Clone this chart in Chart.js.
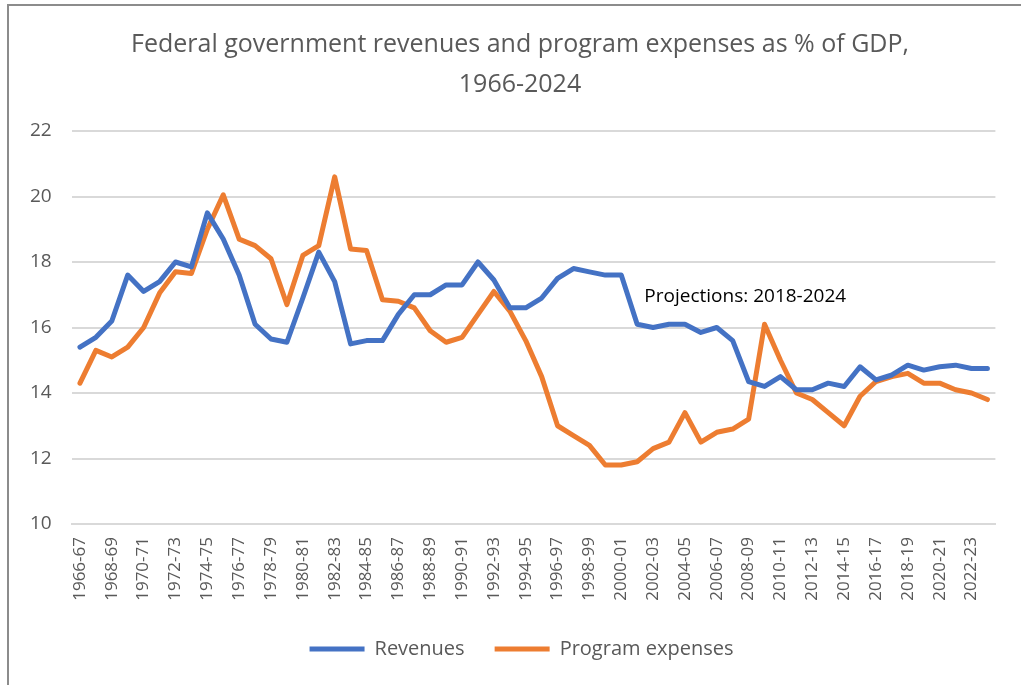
<!DOCTYPE html>
<html>
<head>
<meta charset="utf-8">
<script src="https://cdn.jsdelivr.net/npm/chart.js@4.4.1/dist/chart.umd.min.js"></script>
<style>
    html, body { margin: 0; padding: 0; background: #ffffff; overflow: hidden; }
    #wrap { position: relative; width: 1021px; height: 685px; overflow: hidden; }
    #wrap::before {
        content: "";
        position: absolute;
        left: 7px; top: 4px; right: 0; bottom: 0;
        border-top: 2px solid #8c8c8c;
        border-left: 2px solid #8c8c8c;
        pointer-events: none;
    }
    canvas { display: block; }
</style>
</head>
<body>
<div id="wrap"><canvas id="chart" width="1021" height="685"></canvas></div>
<script>
// Fiscal years, 1966-67 to 2023-24
const fiscalYears = [
    "1966-67", "1967-68", "1968-69", "1969-70", "1970-71", "1971-72", "1972-73", "1973-74",
    "1974-75", "1975-76", "1976-77", "1977-78", "1978-79", "1979-80", "1980-81", "1981-82",
    "1982-83", "1983-84", "1984-85", "1985-86", "1986-87", "1987-88", "1988-89", "1989-90",
    "1990-91", "1991-92", "1992-93", "1993-94", "1994-95", "1995-96", "1996-97", "1997-98",
    "1998-99", "1999-00", "2000-01", "2001-02", "2002-03", "2003-04", "2004-05", "2005-06",
    "2006-07", "2007-08", "2008-09", "2009-10", "2010-11", "2011-12", "2012-13", "2013-14",
    "2014-15", "2015-16", "2016-17", "2017-18", "2018-19", "2019-20", "2020-21", "2021-22",
    "2022-23", "2023-24"
];

// % of GDP
const revenues = [
    15.4, 15.7, 16.2, 17.6, 17.1, 17.4, 18.0, 17.85, 19.5, 18.7,
    17.6, 16.1, 15.65, 15.55, 16.9, 18.3, 17.4, 15.5, 15.6, 15.6,
    16.4, 17.0, 17.0, 17.3, 17.3, 18.0, 17.45, 16.6, 16.6, 16.9,
    17.5, 17.8, 17.7, 17.6, 17.6, 16.1, 16.0, 16.1, 16.1, 15.85,
    16.0, 15.6, 14.35, 14.2, 14.5, 14.1, 14.1, 14.3, 14.2, 14.8,
    14.4, 14.55, 14.85, 14.7, 14.8, 14.85, 14.75, 14.75
];

const programExpenses = [
    14.3, 15.3, 15.1, 15.4, 16.0, 17.05, 17.7, 17.65, 19.0, 20.05,
    18.7, 18.5, 18.1, 16.7, 18.2, 18.5, 20.6, 18.4, 18.35, 16.85,
    16.8, 16.6, 15.9, 15.55, 15.7, 16.4, 17.1, 16.5, 15.6, 14.5,
    13.0, 12.7, 12.4, 11.8, 11.8, 11.9, 12.3, 12.5, 13.4, 12.5,
    12.8, 12.9, 13.2, 16.1, 15.0, 14.0, 13.8, 13.4, 13.0, 13.9,
    14.35, 14.5, 14.6, 14.3, 14.3, 14.1, 14.0, 13.8
];

const yTicks = [10, 12, 14, 16, 18, 20, 22];

const titleLines = ["Federal government revenues and program expenses as % of GDP,", "1966-2024"];
const noteText = "Projections: 2018-2024";

const BLUE = "#4472C4";
const ORANGE = "#ED7D31";
const TEXT_GRAY = "#595959";
const GRID_GRAY = "#d9d9d9";
const FONT = "'Open Sans', 'Liberation Sans', sans-serif";

// Two-line heading, centred over the plot + legend block
const headingPlugin = {
    id: "heading",
    afterDraw(chart) {
        const { ctx } = chart;
        const cx = 520;
        ctx.save();
        ctx.font = "25px " + FONT;
        ctx.fillStyle = TEXT_GRAY;
        ctx.textAlign = "center";
        ctx.textBaseline = "middle";
        titleLines.forEach((line, i) => ctx.fillText(line, cx, 45 + i * 40));
        ctx.restore();
    }
};

// Free-floating note over the plot, anchored in data coordinates
const notePlugin = {
    id: "projectionNote",
    afterDatasetsDraw(chart) {
        const { ctx, scales } = chart;
        const x = scales.x.getPixelForValue(35.45);
        const y = scales.y.getPixelForValue(16.95);
        ctx.save();
        ctx.font = "19px " + FONT;
        ctx.fillStyle = "#000000";
        ctx.textAlign = "left";
        ctx.textBaseline = "middle";
        ctx.fillText(noteText, x, y);
        ctx.restore();
    }
};

const ctx = document.getElementById("chart").getContext("2d");

new Chart(ctx, {
    type: "line",
    data: {
        labels: fiscalYears,
        datasets: [
            {
                label: "Revenues",
                data: revenues,
                borderColor: BLUE,
                backgroundColor: BLUE,
                borderWidth: 5,
                borderJoinStyle: "round",
                borderCapStyle: "round",
                pointRadius: 0,
                tension: 0
            },
            {
                label: "Program expenses",
                data: programExpenses,
                borderColor: ORANGE,
                backgroundColor: ORANGE,
                borderWidth: 5,
                borderJoinStyle: "round",
                borderCapStyle: "round",
                pointRadius: 0,
                tension: 0
            }
        ]
    },
    options: {
        responsive: false,
        animation: false,
        layout: {
            padding: { left: 42, right: 20, top: 131, bottom: 16 }
        },
        plugins: {
            title: { display: false },
            legend: {
                position: "bottom",
                labels: {
                    color: TEXT_GRAY,
                    font: { family: FONT, size: 20 },
                    boxWidth: 55,
                    boxHeight: 5,
                    padding: 30,
                    generateLabels(chart) {
                        return Chart.defaults.plugins.legend.labels.generateLabels(chart).map(item => {
                            item.lineWidth = 0;
                            item.strokeStyle = item.fillStyle;
                            return item;
                        });
                    }
                }
            },
            tooltip: { enabled: false }
        },
        scales: {
            x: {
                offset: true,
                grid: { display: false, drawTicks: false },
                border: { color: GRID_GRAY, width: 2 },
                ticks: {
                    color: TEXT_GRAY,
                    font: { family: FONT, size: 17 },
                    autoSkip: false,
                    maxRotation: 90,
                    minRotation: 90,
                    padding: 13,
                    callback: function (value, index) {
                        return index % 2 === 0 ? fiscalYears[index] : "";
                    }
                },
                afterFit(scale) {
                    scale.height = 85;
                }
            },
            y: {
                min: yTicks[0],
                max: yTicks[yTicks.length - 1],
                grid: { color: GRID_GRAY, lineWidth: 2, drawTicks: false },
                border: { display: false },
                ticks: {
                    color: TEXT_GRAY,
                    font: { family: FONT, size: 19 },
                    stepSize: 2,
                    // mirrored labels pulled back out to the left of the plot
                    mirror: true,
                    padding: -42
                },
                afterFit(scale) {
                    scale.width = 30;
                }
            }
        }
    },
    plugins: [headingPlugin, notePlugin]
});
</script>
</body>
</html>
